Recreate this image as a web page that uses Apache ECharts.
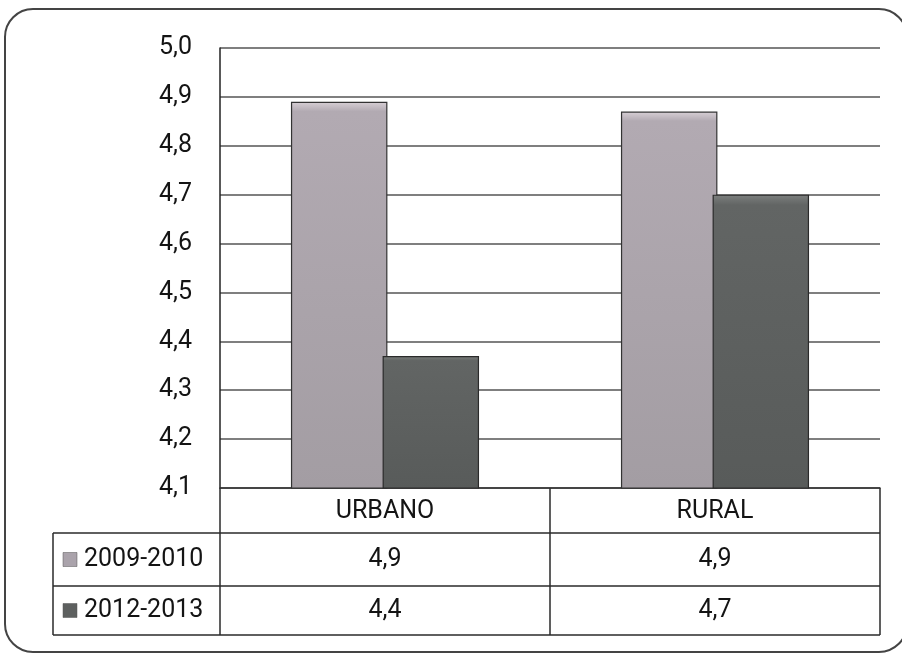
<!DOCTYPE html>
<html>
<head>
<meta charset="utf-8">
<script src="https://cdn.jsdelivr.net/npm/echarts@6/dist/echarts.min.js"></script>
<style>
  html, body { margin: 0; padding: 0; background: #fff; }
  #chart { width: 902px; height: 654px; }
</style>
</head>
<body>
<div id="chart"></div>
<script>
// data
var categories = ['URBANO', 'RURAL'];
var seriesNames = ['2009-2010', '2012-2013'];
var values2009 = [4.89, 4.87];
var values2012 = [4.37, 4.70];
var yMin = 4.1, yMax = 5.0, yStep = 0.1;

var colors = ['#aaa3ab', '#5d605f'];
var FONT = "Roboto, 'Noto Sans', sans-serif";
var TXT = '#141414';

function fmt(v) { return v.toFixed(1).replace('.', ','); }

var chart = echarts.init(document.getElementById('chart'));

var option = {
  backgroundColor: '#fff',
  animation: false,
  grid: { left: 220, right: 22, top: 48, bottom: 166 },
  xAxis: {
    type: 'category',
    data: categories,
    axisLine: { show: true, lineStyle: { color: '#333', width: 1.5 } },
    axisTick: { show: false },
    axisLabel: { show: false }
  },
  yAxis: {
    type: 'value',
    min: yMin,
    max: yMax,
    interval: yStep,
    axisLine: { show: true, lineStyle: { color: '#222', width: 1.5 } },
    axisTick: { show: false },
    axisLabel: {
      margin: 28,
      fontSize: 25,
      fontFamily: FONT,
      color: TXT,
      formatter: function (v) { return fmt(v); }
    },
    splitLine: { show: true, lineStyle: { color: '#555', width: 1.6 } }
  },
  series: [
    {
      name: seriesNames[0],
      type: 'bar',
      data: values2009,
      barCategoryGap: '43%',
      barGap: '-5%',
      itemStyle: {
        color: new echarts.graphic.LinearGradient(0, 0, 0, 1, [
          { offset: 0, color: '#d8d0d6' },
          { offset: 0.025, color: '#b2aab2' },
          { offset: 1, color: '#a39da3' }
        ]),
        borderColor: '#333',
        borderWidth: 1.2
      }
    },
    {
      name: seriesNames[1],
      type: 'bar',
      data: values2012,
      itemStyle: {
        color: new echarts.graphic.LinearGradient(0, 0, 0, 1, [
          { offset: 0, color: '#7d807f' },
          { offset: 0.035, color: '#626564' },
          { offset: 1, color: '#585b5a' }
        ]),
        borderColor: '#2a2a2a',
        borderWidth: 1.2
      }
    }
  ]
};

chart.setOption(option);

// data table under the plot, placed from the axis scales
var c0 = chart.convertToPixel({ xAxisIndex: 0 }, categories[0]);
var c1 = chart.convertToPixel({ xAxisIndex: 0 }, categories[1]);
var band = c1 - c0;
var xLeft = c0 - band / 2;
var xRight = c1 + band / 2;
var yTop = chart.convertToPixel({ yAxisIndex: 0 }, yMin);
var legLeft = 53;
var rowH = [45, 53, 49];
var rowY = [yTop, yTop + rowH[0], yTop + rowH[0] + rowH[1], yTop + rowH[0] + rowH[1] + rowH[2]];

var lineStyle = { stroke: '#2a2a2a', lineWidth: 1.5 };
var els = [];
function hline(x1, x2, y) {
  els.push({ type: 'line', shape: { x1: x1, y1: y, x2: x2, y2: y }, style: lineStyle, silent: true });
}
function vline(x, y1, y2) {
  els.push({ type: 'line', shape: { x1: x, y1: y1, x2: x, y2: y2 }, style: lineStyle, silent: true });
}
function txt(s, x, y, align) {
  els.push({ type: 'text', x: x, y: y, silent: true,
    style: { text: s, fontSize: 25, fontFamily: FONT, fill: TXT, align: align, verticalAlign: 'middle' } });
}

// rows
hline(legLeft, xRight, rowY[1]);
hline(legLeft, xRight, rowY[2]);
hline(legLeft, xRight, rowY[3]);
// columns
vline(legLeft, rowY[1], rowY[3]);
vline(xLeft, rowY[0], rowY[3]);
for (var i = 0; i < categories.length; i++) {
  vline(xLeft + band * (i + 1), rowY[0], rowY[3]);
}
// category header
categories.forEach(function (c, i) {
  txt(c, xLeft + band * (i + 0.5), (rowY[0] + rowY[1]) / 2 + 1, 'center');
});
// series rows
var rows = [values2009, values2012];
rows.forEach(function (vals, r) {
  var cy = (rowY[r + 1] + rowY[r + 2]) / 2;
  els.push({ type: 'rect', silent: true,
    shape: { x: legLeft + 10, y: cy - 7, width: 14, height: 14 },
    style: { fill: colors[r], stroke: '#555', lineWidth: 0.5 } });
  txt(seriesNames[r], legLeft + 31, cy, 'left');
  vals.forEach(function (v, i) {
    txt(fmt(v), xLeft + band * (i + 0.5), cy, 'center');
  });
});
// outer rounded frame
els.push({ type: 'rect', silent: true,
  shape: { x: 5, y: 9, width: 902, height: 643, r: 28 },
  style: { fill: 'none', stroke: '#444', lineWidth: 2 } });

chart.setOption({ graphic: { elements: els } });
</script>
</body>
</html>
